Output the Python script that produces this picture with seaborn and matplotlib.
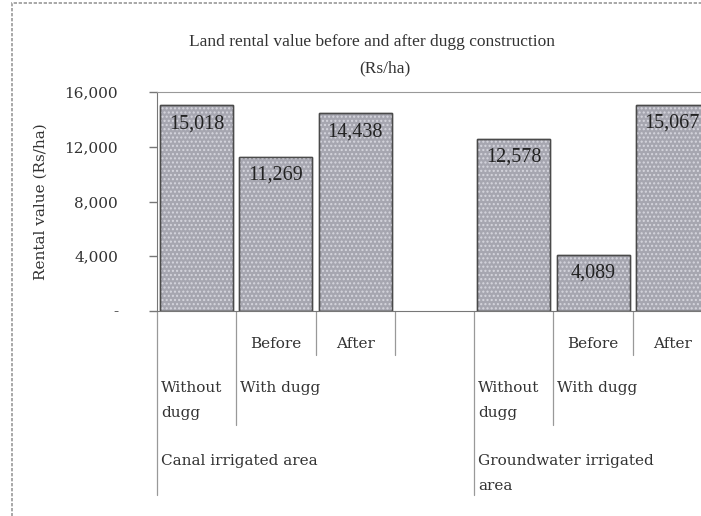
import numpy as np
import pandas as pd
import seaborn as sns
import matplotlib.pyplot as plt
from matplotlib.ticker import FuncFormatter
from matplotlib.patches import Rectangle

# chart data
areas = ["Canal irrigated area", "Groundwater irrigated\narea"]
dugg_status = ["Without\ndugg", "With dugg"]
periods = ["Before", "After"]
rental_values = [15018, 11269, 14438, 12578, 4089, 15067]
y_ticks = [0, 4000, 8000, 12000, 16000]

# category slots (one empty slot between the two areas)
slot_ids = ["c0", "c1", "c2", "gap", "g0", "g1", "g2"]
bar_slots = ["c0", "c1", "c2", "g0", "g1", "g2"]
area_start = [0, 4]

sns.set_style("ticks")
plt.rcParams["font.family"] = ["DejaVu Serif"]

fig = plt.figure(figsize=(7.01, 5.16), dpi=100)
ax = fig.add_axes([157 / 701, 205 / 516, 555 / 701, 219 / 516])

df = pd.DataFrame({"slot": bar_slots, "value": rental_values})
sns.barplot(data=df, x="slot", y="value", order=slot_ids, color="#a6a6b0",
            saturation=1, width=0.92, edgecolor="#555555", linewidth=1.0, ax=ax)

# dotted texture like the scanned excel fill, then the solid outline back on top
for p in list(ax.containers[0]):
    ax.add_patch(Rectangle(p.get_xy(), p.get_width(), p.get_height(),
                           facecolor="none", edgecolor="#d6d6de", hatch="....",
                           linewidth=0))
    ax.add_patch(Rectangle(p.get_xy(), p.get_width(), p.get_height(),
                           facecolor="none", edgecolor="#4a4a4a", linewidth=1.0))

ax.bar_label(ax.containers[0], labels=[f"{v:,}" for v in rental_values],
             padding=-20, fontsize=14.5, family="Liberation Serif", color="#222222")

ax.set_xlim(-0.5, len(slot_ids) - 0.5)
ax.set_ylim(y_ticks[0], y_ticks[-1])
ax.set_yticks(y_ticks)
ax.yaxis.set_major_formatter(FuncFormatter(lambda v, _: "-" if v == 0 else f"{v:,.0f}"))
ax.set_xticks([])
ax.set_xlabel("")
ax.set_ylabel("Rental value (Rs/ha)", fontsize=11, color="#333333", labelpad=12)
ax.tick_params(axis="y", direction="out", length=6, width=1, color="#777777",
               pad=22, labelsize=11, labelcolor="#333333")

for side in ["left", "bottom"]:
    ax.spines[side].set_color("#777777")
ax.spines["top"].set_visible(True)
ax.spines["top"].set_color("#999999")
ax.spines["top"].set_linestyle((0, (1, 1)))
ax.spines["right"].set_visible(False)

# multi-level category axis
trans = ax.get_xaxis_transform()
depths = [-0.84, -0.52, -0.2, -0.2, -0.84, -0.52, -0.2]
for i, d in enumerate(depths):
    ax.plot([i - 0.5, i - 0.5], [0, d], transform=trans, color="#999999",
            lw=0.9, clip_on=False)

txt = dict(transform=trans, fontsize=11, color="#333333", va="top", linespacing=2.0)
for b, area in zip(area_start, areas):
    for k, per in enumerate(periods):
        ax.text(b + 1 + k, -0.12, per, ha="center", **txt)
    ax.text(b - 0.45, -0.32, dugg_status[0], ha="left", **txt)
    ax.text(b + 0.55, -0.32, dugg_status[1], ha="left", **txt)
    ax.text(b - 0.45, -0.655, area, ha="left", **txt)

# title
fig.text(372 / 701, 1 - 42 / 516, "Land rental value before and after dugg construction",
         ha="center", va="center", fontsize=12.5, family="Liberation Serif", color="#333333")
fig.text(385 / 701, 1 - 68 / 516, "(Rs/ha)", ha="center", va="center", fontsize=12.5,
         family="Liberation Serif", color="#333333")

# chart border
fig.add_artist(Rectangle((12 / 701, -0.1), 1.2, 1.1 - 3 / 516, transform=fig.transFigure,
                         fill=False, edgecolor="#999999", lw=1.2, linestyle=(0, (2, 1))))

fig.savefig("out.png", dpi=100)
